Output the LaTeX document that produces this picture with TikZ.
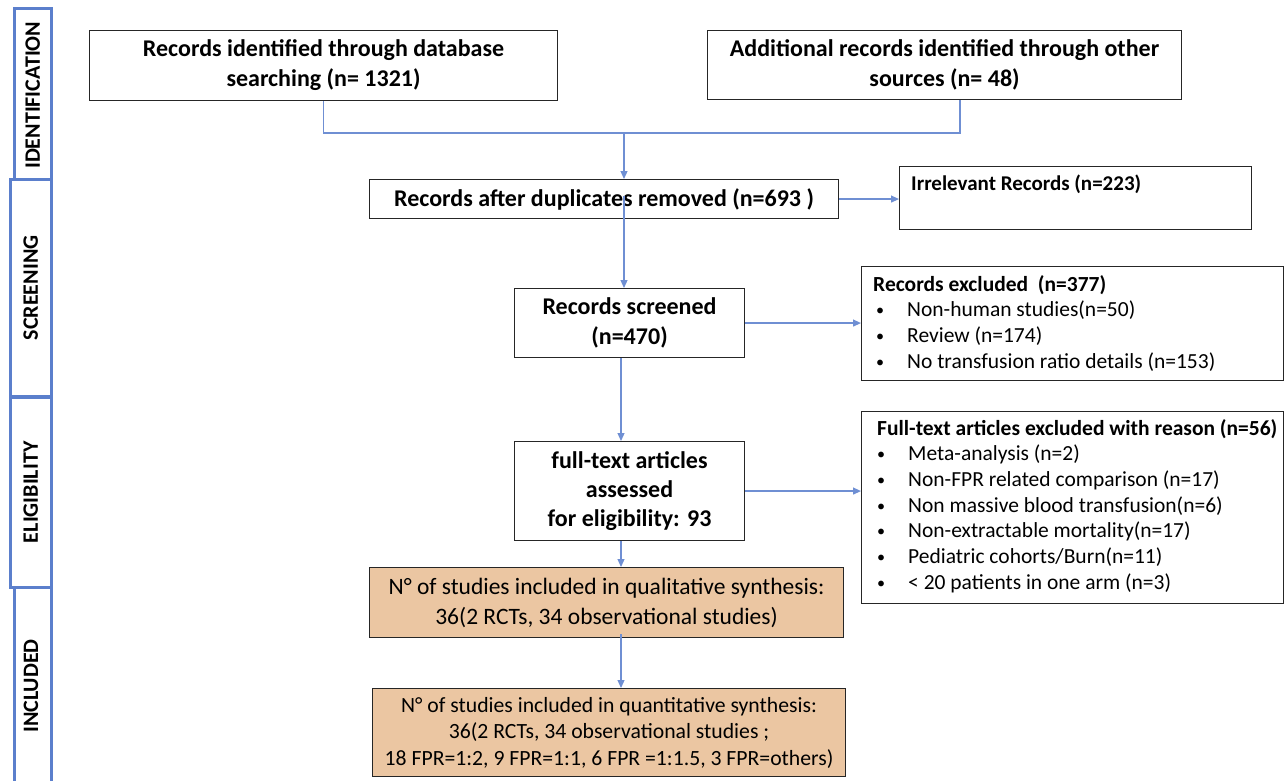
\documentclass[tikz,border=0pt]{standalone}
\usepackage{fontspec}
\setmainfont{Carlito}
\usetikzlibrary{arrows.meta}
\definecolor{conn}{HTML}{6F8FD3}
\definecolor{side}{HTML}{5B7FCC}
\definecolor{tanfill}{HTML}{EBC6A2}
\newcommand\blt{\makebox[31pt][l]{\raisebox{1pt}{\scalebox{0.75}{\textbullet}}}}
\begin{document}
\begin{tikzpicture}[x=1pt,y=-1pt,
  box/.style={draw=black!85, line width=1.1pt, rectangle, anchor=north west, inner sep=0pt, align=center},
  bigb/.style={font=\fontsize{24}{30}\selectfont\bfseries},
  tanbox/.style={box, fill=tanfill},
  sidebar/.style={draw=side, line width=2.6pt, rectangle, anchor=north west, inner sep=0pt, fill=white},
  sidelabel/.style={rotate=90, font=\fontsize{22}{24}\selectfont\bfseries},
  conn/.style={draw=conn, line width=1.2pt},
  arr/.style={conn, -{Triangle[length=8pt,width=7pt]}},
  listtxt/.style={anchor=north west, inner sep=0pt, align=left, font=\fontsize{21.5}{25.7}\selectfont}
]
\useasboundingbox (0,0) rectangle (1285,781);

% side bars
\node[sidebar, minimum width=37pt, minimum height=174pt] (sid) at (13,7) {};
\node[sidebar, minimum width=37pt, minimum height=205pt] (sinc) at (13,586) {};
\node[sidebar, minimum width=41pt, minimum height=217pt] (sscr) at (9,178) {};
\node[sidebar, minimum width=41pt, minimum height=190pt] (seli) at (9,396) {};
\node[sidelabel] (lid) at (sid.center) {IDENTIFICATION};
\node[sidelabel] (lscr) at (sscr.center) {SCREENING};
\node[sidelabel] (leli) at (seli.center) {ELIGIBILITY};
\node[sidelabel] (linc) at (31,686) {INCLUDED};

% main boxes
\node[box, bigb, minimum width=468pt, minimum height=70pt] (db) at (89,30)
  {Records identified through database\\searching (n= 1321)};
\node[box, bigb, minimum width=474pt, minimum height=69pt] (oth) at (707,30)
  {Additional records identified through other\\sources (n= 48)};
\node[box, bigb, minimum width=469pt, minimum height=39pt] (dup) at (369,179)
  {Records after duplicates removed (n=693 )};
\node[box, minimum width=352pt, minimum height=63pt] (irr) at (899,166) {};
\node[anchor=north west, inner sep=0pt, font=\fontsize{21}{25}\selectfont\bfseries] (irrt) at (911,175) {Irrelevant Records (n=223)};
\node[box, bigb, minimum width=230pt, minimum height=69pt] (scr) at (514,288)
  {Records screened\\(n=470)};
\node[box, minimum width=422pt, minimum height=114pt] (ex1) at (861,266) {};
\node[listtxt] (ex1t) at (873,275)
  {\textbf{Records excluded\ \ (n=377)}\\
   \hspace*{3pt}\blt Non-human studies(n=50)\\
   \hspace*{3pt}\blt Review (n=174)\\
   \hspace*{3pt}\blt No transfusion ratio details (n=153)};
\node[box, bigb, minimum width=230pt, minimum height=99pt, font=\fontsize{24}{29}\selectfont\bfseries] (ft) at (514,441)
  {full-text articles\\assessed\\for eligibility: 93};
\node[box, minimum width=422pt, minimum height=192pt] (ex2) at (861,411) {};
\node[listtxt] (ex2t) at (877,419)
  {\textbf{Full-text articles excluded with reason (n=56)}\\
   \blt Meta-analysis (n=2)\\
   \blt Non-FPR related comparison (n=17)\\
   \blt Non massive blood transfusion(n=6)\\
   \blt Non-extractable mortality(n=17)\\
   \blt Pediatric cohorts/Burn(n=11)\\
   \blt < 20 patients in one arm (n=3)};
\node[tanbox, minimum width=474pt, minimum height=70pt, font=\fontsize{23.5}{30}\selectfont] (qual) at (369,567)
  {N° of studies included in qualitative synthesis:\\36(2 RCTs, 34 observational studies)};
\node[tanbox, minimum width=473pt, minimum height=88pt, font=\fontsize{21.7}{26.5}\selectfont] (quant) at (372,688)
  {N° of studies included in quantitative synthesis:\\36(2 RCTs, 34 observational studies ;\\18 FPR=1:2, 9 FPR=1:1, 6 FPR =1:1.5, 3 FPR=others)};

% connectors
\coordinate (j) at (624,133);
\coordinate (k) at (621,0);
\coordinate (m) at (960,0);
\draw[conn] (db.south) |- (j) -| (m |- oth.south);
\draw[arr] (j) -- (j |- dup.north);
\draw[arr] (624,196) -- (j |- scr.north);
\draw[arr] (dup.east) -- (dup.east -| irr.west);
\draw[arr] (scr.east) -- (scr.east -| ex1.west);
\draw[arr] (k |- scr.south) -- (k |- ft.north);
\draw[arr] (ft.east) -- (ft.east -| ex2.west);
\draw[arr] (k |- ft.south) -- (k |- qual.north);
\draw[arr] ([yshift=4pt]k |- qual.south) -- (k |- quant.north);
\end{tikzpicture}
\end{document}
